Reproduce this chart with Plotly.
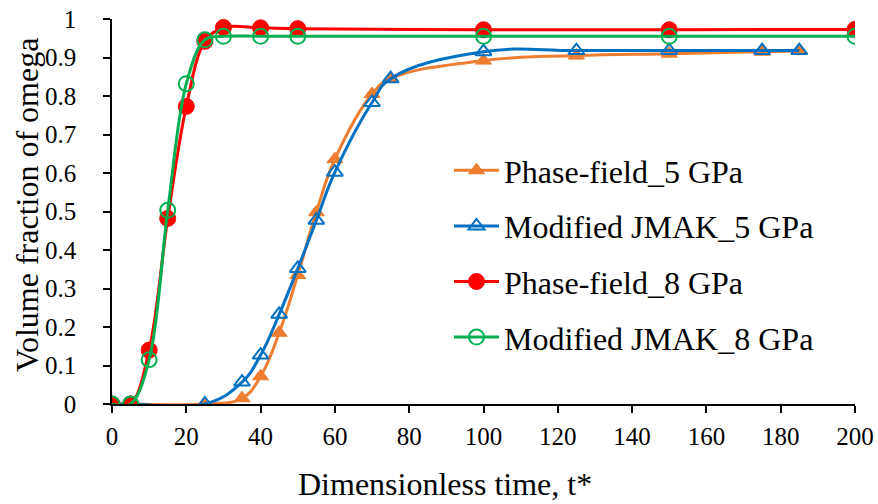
import plotly.graph_objects as go

# ---- data ----
t_5gpa = [0, 5, 25, 35, 40, 45, 50, 55, 60, 70, 75, 100, 125, 150, 175, 185]
pf_5gpa = [0, 0, 0, 0.015, 0.072, 0.185, 0.335, 0.498, 0.636, 0.805, 0.845, 0.892, 0.905, 0.91, 0.915, 0.917]
jmak_5gpa = [0, 0, 0, 0.057, 0.127, 0.233, 0.352, 0.477, 0.602, 0.783, 0.845, 0.915, 0.918, 0.918, 0.918, 0.918]

t_8gpa = [0, 5, 10, 15, 20, 25, 30, 40, 50, 100, 150, 200]
pf_8gpa = [0, 0, 0.14, 0.482, 0.773, 0.942, 0.978, 0.977, 0.975, 0.972, 0.972, 0.973]
jmak_8gpa = [0, 0, 0.115, 0.503, 0.832, 0.946, 0.955, 0.955, 0.955, 0.955, 0.955, 0.955]

names = ["Phase-field_5 GPa", "Modified JMAK_5 GPa", "Phase-field_8 GPa", "Modified JMAK_8 GPa"]
x_ticks = list(range(0, 201, 20))
y_ticks = [round(i * 0.1, 1) for i in range(11)]
y_tick_text = ["0", "0.1", "0.2", "0.3", "0.4", "0.5", "0.6", "0.7", "0.8", "0.9", "1"]

FONT = "Liberation Serif"
ORANGE = "#ED7D31"
BLUE = "#0070C0"
RED = "#FF0000"
GREEN = "#00B050"

fig = go.Figure()
fig.add_trace(go.Scatter(
    x=t_5gpa, y=pf_5gpa, name=names[0], legendgroup="a", mode="lines+markers",
    line=dict(color=ORANGE, width=3, shape="spline", smoothing=1.2),
    marker=dict(symbol="triangle-up", size=14, color=ORANGE, line=dict(color=ORANGE, width=1))))
fig.add_trace(go.Scatter(
    x=t_5gpa, y=jmak_5gpa, name=names[1], legendgroup="b", mode="lines+markers",
    line=dict(color=BLUE, width=3, shape="spline", smoothing=1.2),
    marker=dict(symbol="triangle-up-open", size=14, color=BLUE, line=dict(color=BLUE, width=2))))
fig.add_trace(go.Scatter(
    x=t_8gpa, y=pf_8gpa, name=names[2], legendgroup="c", mode="lines+markers",
    line=dict(color=RED, width=3, shape="spline", smoothing=1),
    marker=dict(symbol="circle", size=16, color=RED, line=dict(color=RED, width=1))))
fig.add_trace(go.Scatter(
    x=t_8gpa, y=jmak_8gpa, name=names[3], legendgroup="d", mode="lines+markers",
    line=dict(color=GREEN, width=3, shape="spline", smoothing=1),
    marker=dict(symbol="circle-open", size=15, color=GREEN, line=dict(color=GREEN, width=2))))

L, R, T, B = 112, 23, 19, 100
W, H = 878, 504
pw = W - L - R
ph = H - T - B

fig.update_layout(
    width=W, height=H,
    margin=dict(l=L, r=R, t=T, b=B, autoexpand=False),
    paper_bgcolor="white", plot_bgcolor="white",
    font=dict(family=FONT, color="black", size=25),
    showlegend=True,
    legend=dict(
        x=(449 - L) / pw, y=(404 - 143) / ph, xanchor="left", yanchor="top",
        font=dict(family=FONT, size=32, color="black"),
        bgcolor="rgba(0,0,0,0)", borderwidth=0,
        traceorder="grouped", tracegroupgap=11, itemwidth=45,
    ),
    xaxis=dict(
        range=[0, 200], tickmode="array", tickvals=x_ticks, automargin=False,
        showgrid=False, zeroline=False,
        showline=True, linecolor="black", linewidth=1.5,
        ticks="outside", ticklen=7, tickwidth=1.5, tickcolor="black",
        tickfont=dict(family=FONT, size=25, color="black"),
        ticklabelstandoff=2,
    ),
    yaxis=dict(
        range=[0, 1], tickmode="array", tickvals=y_ticks, ticktext=y_tick_text, automargin=False,
        showgrid=False, zeroline=False,
        showline=True, linecolor="black", linewidth=1.5,
        ticks="outside", ticklen=7, tickwidth=1.5, tickcolor="black",
        tickfont=dict(family=FONT, size=25, color="black"),
        ticklabelstandoff=22,
    ),
    annotations=[
        dict(text="Dimensionless time, t*", xref="paper", yref="paper",
             x=(445 - L) / pw, y=(404 - 484) / ph, xanchor="center", yanchor="middle",
             showarrow=False, font=dict(family=FONT, size=32, color="black")),
        dict(text="Volume fraction of omega", xref="paper", yref="paper",
             x=(27 - L) / pw, y=(404 - 205) / ph, xanchor="center", yanchor="middle",
             textangle=-90, showarrow=False, font=dict(family=FONT, size=32, color="black")),
    ],
)

fig.write_html("out.html")
